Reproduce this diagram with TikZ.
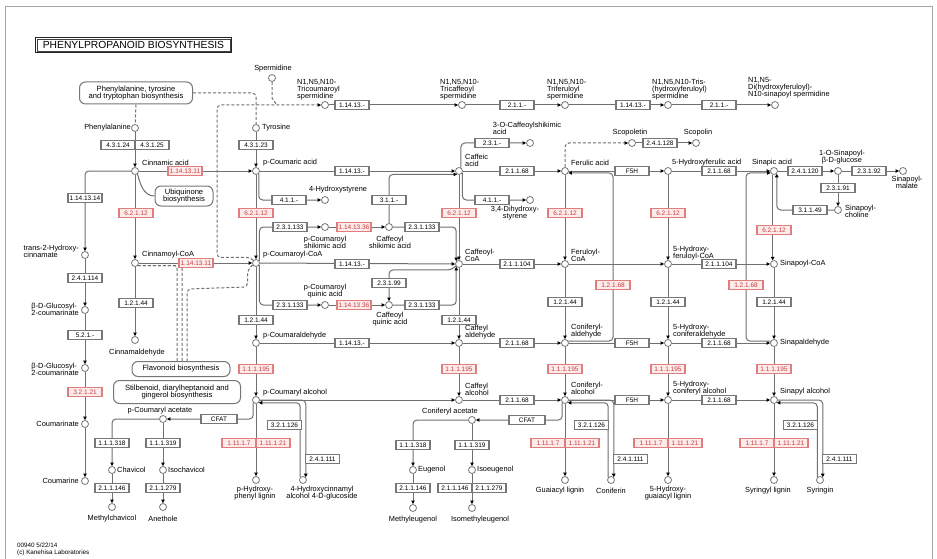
\documentclass[tikz,border=0pt]{standalone}
\usepackage{fontspec}
\setmainfont{Liberation Sans}
\usetikzlibrary{arrows.meta}
\pgfdeclarelayer{back}
\pgfdeclarelayer{bg}
\pgfsetlayers{back,bg,main}
\definecolor{lnc}{HTML}{707070}
\definecolor{boxc}{HTML}{777777}
\definecolor{redb}{HTML}{E07D7D}
\definecolor{redf}{HTML}{FDEBEB}
\definecolor{redt}{HTML}{C83C3C}
\tikzset{
  >={Triangle[length=3.5pt,width=3.4pt,color=black]},
  ec/.style={draw=boxc, line width=1.1pt, fill=white, font=\fontsize{6.5}{6.8}\selectfont, minimum width=34pt, minimum height=9.5pt, inner sep=0pt},
  ecr/.style={ec, draw=redb, fill=redf, text=redt},
  cpd/.style={circle, draw=boxc, line width=0.8pt, fill=white, minimum size=7pt, inner sep=0pt},
  lb/.style={font=\fontsize{7.4}{7}\selectfont, inner sep=0pt, align=left},
  lbc/.style={lb, align=center},
  mapbox/.style={draw=boxc, line width=1pt, rounded corners=6pt, fill=white, font=\fontsize{7.6}{7.6}\selectfont, align=center, inner sep=1pt},
  ln/.style={draw=lnc, line width=1pt},
  ar/.style={ln, ->},
  dl/.style={ln, dash pattern=on 3pt off 2pt},
}
\begin{document}
\begin{tikzpicture}[x=1pt,y=-1pt]
\useasboundingbox (0,0) rectangle (937,559);
\begin{pgfonlayer}{back}
\fill[white] (0,0) rectangle (937,559);
\draw[black!35,line width=1pt] (5,559) -- (5,7) -- (932,7) -- (932,559);
\end{pgfonlayer}

% title and maps
\node[draw=black!85, line width=1.3pt, minimum width=196pt, minimum height=15pt, inner sep=0pt, font=\fontsize{10.3}{11}\selectfont] (title) at (133.5,45) {PHENYLPROPANOID BIOSYNTHESIS};
\draw[black!75, line width=0.5pt] ([shift={(2.3,2.3)}]title.north west) rectangle ([shift={(-2.3,-2.3)}]title.south east);
\node[mapbox, minimum width=113pt, minimum height=22pt] (mphe) at (136,93) {Phenylalanine, tyrosine\\and tryptophan biosynthesis};
\node[mapbox, minimum width=58pt, minimum height=20pt] (mubq) at (184,196) {Ubiquinone\\biosynthesis};
\node[mapbox, minimum width=98pt, minimum height=15pt] (mflav) at (181,369) {Flavonoid biosynthesis};
\node[mapbox, minimum width=127pt, minimum height=23pt] (mstil) at (177,392) {Stilbenoid, diarylheptanoid and\\gingerol biosynthesis};

% ---------- compounds ----------
\node[cpd] (phe) at (135,128) {};
\node[lb, anchor=east] (lphe) at (131,128) {Phenylalanine};
\node[cpd] (cinn) at (135,171) {};
\node[lb, anchor=west] (lcinn) at (142,163) {Cinnamic acid};
\node[cpd] (t2hc) at (85,255) {};
\node[lb, anchor=east] (lt2hc) at (79,251) {trans-2-Hydroxy-\\cinnamate};
\node[cpd] (glc1) at (85,310) {};
\node[lb, anchor=east] (lglc1) at (79,309) {β-D-Glucosyl-\\2-coumarinate};
\node[cpd] (glc2) at (85,368) {};
\node[lb, anchor=east] (lglc2) at (79,369) {β-D-Glucosyl-\\2-coumarinate};
\node[cpd] (cmrt) at (85,424) {};
\node[lb, anchor=east] (lcmrt) at (79,424) {Coumarinate};
\node[cpd] (cmrn) at (85,481) {};
\node[lb, anchor=east] (lcmrn) at (79,481) {Coumarine};
\node[cpd] (cinncoa) at (135,263) {};
\node[lb, anchor=west] (lcinncoa) at (142,255) {Cinnamoyl-CoA};
\node[cpd] (cinnald) at (135,340) {};
\node[lb] (lcinnald) at (137,353) {Cinnamaldehyde};
\node[cpd] (pcac) at (163,419) {};
\node[lb] (lpcac) at (160,411) {p-Coumaryl acetate};
\node[cpd] (chav) at (112,470) {};
\node[lb, anchor=west] (lchav) at (117,470) {Chavicol};
\node[cpd] (ichav) at (163,470) {};
\node[lb, anchor=west] (lichav) at (168,470) {Isochavicol};
\node[cpd] (mchav) at (112,507) {};
\node[lb] (lmchav) at (112,519) {Methylchavicol};
\node[cpd] (anet) at (163,507) {};
\node[lb] (lanet) at (163,519) {Anethole};

\node[cpd] (tyr) at (256,128) {};
\node[lb, anchor=west] (ltyr) at (262,128) {Tyrosine};
\node[cpd] (pcoum) at (256,171) {};
\node[lb, anchor=west] (lpcoum) at (263,163) {p-Coumaric acid};
\node[cpd] (sperm) at (272,78) {};
\node[lb] (lsperm) at (273,69) {Spermidine};
\coordinate (spj) at (277,105);
\node[cpd] (tcs) at (325,105) {};
\node[lb, anchor=north west] (ltcs) at (297,79) {N1,N5,N10-\\Tricoumaroyl\\spermidine};
\node[cpd] (tcaf) at (462,105) {};
\node[lb, anchor=north west] (ltcaf) at (440,79) {N1,N5,N10-\\Tricaffeoyl\\spermidine};
\node[cpd] (tfer) at (565,105) {};
\node[lb, anchor=north west] (ltfer) at (547,79) {N1,N5,N10-\\Triferuloyl\\spermidine};
\node[cpd] (thf) at (668,105) {};
\node[lb, anchor=north west] (lthf) at (652,79) {N1,N5,N10-Tris-\\(hydroxyferuloyl)\\spermidine};
\node[cpd] (dsp) at (775,105) {};
\node[lb, anchor=north west] (ldsp) at (748,77) {N1,N5-\\Di(hydroxyferuloyl)-\\N10-sinapoyl spermidine};
\node[cpd] (hsty) at (325,200) {};
\node[lb] (lhsty) at (338,190) {4-Hydroxystyrene};
\node[cpd] (pcoa) at (256,263) {};
\node[lb, anchor=west] (lpcoa) at (263,255) {p-Coumaroyl-CoA};
\node[cpd] (pcs) at (325,227) {};
\node[lbc] (lpcs) at (325,242) {p-Coumaroyl\\shikimic acid};
\node[cpd] (cs) at (389,227) {};
\node[lbc] (lcs) at (390,242) {Caffeoyl\\shikimic acid};
\node[cpd] (pcq) at (325,305) {};
\node[lbc] (lpcq) at (325,291) {p-Coumaroyl\\quinic acid};
\node[cpd] (cq) at (389,305) {};
\node[lbc] (lcq) at (390,319) {Caffeoyl\\quinic acid};
\node[cpd] (pcald) at (256,343) {};
\node[lb, anchor=west] (lpcald) at (263,336) {p-Coumaraldehyde};
\node[cpd] (pcalc) at (256,400) {};
\node[lb, anchor=west] (lpcalc) at (263,393) {p-Coumaryl alcohol};
\node[cpd] (phl) at (256,480) {};
\node[lbc] (lphl) at (255,493) {p-Hydroxy-\\phenyl lignin};
\node[cpd] (hcag) at (303,480) {};
\node[lbc] (lhcag) at (322,493) {4-Hydroxycinnamyl\\alcohol 4-D-glucoside};

\node[cpd] (caff) at (459,171) {};
\node[lb, anchor=west] (lcaff) at (465,160) {Caffeic\\acid};
\node[cpd] (chl) at (530,143) {};
\node[lb] (lchl) at (527,128) {3-O-Caffeoylshikimic\\acid};
\node[cpd] (dhst) at (530,200) {};
\node[lbc] (ldhst) at (515,213) {3,4-Dihydroxy-\\styrene};
\node[cpd] (ccoa) at (459,264) {};
\node[lb, anchor=west] (lccoa) at (465,255) {Caffeoyl-\\CoA};
\node[cpd] (cald) at (459,343) {};
\node[lb, anchor=west] (lcald) at (465,332) {Caffeyl\\aldehyde};
\node[cpd] (calc) at (459,400) {};
\node[lb, anchor=west] (lcalc) at (465,389) {Caffeyl\\alcohol};
\node[cpd] (conac) at (472,420) {};
\node[lb] (lconac) at (450,412) {Coniferyl acetate};
\node[cpd] (eug) at (413,470) {};
\node[lb, anchor=west] (leug) at (418,470) {Eugenol};
\node[cpd] (ieug) at (472,470) {};
\node[lb, anchor=west] (lieug) at (477,470) {Isoeugenol};
\node[cpd] (meug) at (413,508) {};
\node[lb] (lmeug) at (413,520) {Methyleugenol};
\node[cpd] (imeug) at (472,508) {};
\node[lb] (limeug) at (480,520) {Isomethyleugenol};

\node[cpd] (fer) at (565,171) {};
\node[lb, anchor=west] (lfer) at (571,163) {Ferulic acid};
\node[cpd] (scop) at (632,143) {};
\node[lb] (lscop) at (630,133) {Scopoletin};
\node[cpd] (scopn) at (696,143) {};
\node[lb] (lscopn) at (698,133) {Scopolin};
\node[cpd] (hfer) at (668,171) {};
\node[lb, anchor=west] (lhfer) at (672,163) {5-Hydroxyferulic acid};
\node[cpd] (fcoa) at (565,264) {};
\node[lb, anchor=west] (lfcoa) at (571,255) {Feruloyl-\\CoA};
\node[cpd] (conald) at (565,343) {};
\node[lb, anchor=west] (lconald) at (571,331) {Coniferyl-\\aldehyde};
\node[cpd] (conalc) at (565,400) {};
\node[lb, anchor=west] (lconalc) at (571,388) {Coniferyl-\\alcohol};
\node[cpd] (gl) at (565,480) {};
\node[lb] (lgl) at (560,491) {Guaiacyl lignin};
\node[cpd] (conin) at (611,480) {};
\node[lb] (lconin) at (611,491) {Coniferin};

\node[cpd] (hfcoa) at (668,264) {};
\node[lb, anchor=west] (lhfcoa) at (673,253) {5-Hydroxy-\\feruloyl-CoA};
\node[cpd] (hcald) at (668,343) {};
\node[lb, anchor=west] (lhcald) at (673,331) {5-Hydroxy-\\coniferaldehyde};
\node[cpd] (hcalc) at (668,400) {};
\node[lb, anchor=west] (lhcalc) at (673,388) {5-Hydroxy-\\coniferyl alcohol};
\node[cpd] (hgl) at (668,480) {};
\node[lbc] (lhgl) at (668,493) {5-Hydroxy-\\guaiacyl lignin};

\node[cpd] (sin) at (774,171) {};
\node[lb] (lsin) at (772,163) {Sinapic acid};
\node[cpd] (sglc) at (838,171) {};
\node[lbc] (lsglc) at (842,157) {1-O-Sinapoyl-\\β-D-glucose};
\node[cpd] (smal) at (903,171) {};
\node[lbc, anchor=north] (lsmal) at (907,176) {Sinapoyl-\\malate};
\node[cpd] (schol) at (838,210) {};
\node[lb, anchor=west] (lschol) at (845,211) {Sinapoyl-\\choline};
\node[cpd] (scoa) at (774,264) {};
\node[lb, anchor=west] (lscoa) at (780,264) {Sinapoyl-CoA};
\node[cpd] (sald) at (774,343) {};
\node[lb, anchor=west] (lsald) at (780,343) {Sinapaldehyde};
\node[cpd] (salc) at (774,400) {};
\node[lb, anchor=west] (lsalc) at (780,392) {Sinapyl alcohol};
\node[cpd] (syl) at (774,480) {};
\node[lb] (lsyl) at (768,491) {Syringyl lignin};
\node[cpd] (syr) at (820,480) {};
\node[lb] (lsyr) at (820,491) {Syringin};

\node[lb, anchor=north west, font=\fontsize{6.3}{6.6}\selectfont] (foot) at (17,543) {00940 5/22/14\\(c) Kanehisa Laboratories};

% ---------- enzymes ----------
\node[ec] (e1) at (118,145) {4.3.1.24};
\node[ec] (e2) at (152,145) {4.3.1.25};
\node[ecr] (e3) at (185,171) {1.14.13.11};
\node[ec] (e4) at (85,198) {1.14.13.14};
\node[ec] (e5) at (85,278) {2.4.1.114};
\node[ec] (e6) at (85,335) {5.2.1.-};
\node[ecr] (e7) at (85,392) {3.2.1.21};
\node[ecr] (e8) at (136,213) {6.2.1.12};
\node[ecr] (e9) at (196,263) {1.14.13.11};
\node[ec] (e10) at (136,303) {1.2.1.44};
\node[ec] (e11) at (112,443) {1.1.1.318};
\node[ec] (e12) at (163,443) {1.1.1.319};
\node[ec] (e13) at (112,488) {2.1.1.146};
\node[ec] (e14) at (163,488) {2.1.1.279};
\node[ec, minimum width=36pt] (e15) at (219,419) {CFAT};
\node[ec] (e16) at (256,145) {4.3.1.23};
\node[ec] (e17) at (352,105) {1.14.13.-};
\node[ec] (e18) at (517,105) {2.1.1.-};
\node[ec] (e19) at (633,105) {1.14.13.-};
\node[ec] (e20) at (719,105) {2.1.1.-};
\node[ec] (e21) at (352,171) {1.14.13.-};
\node[ec] (e22) at (289,200) {4.1.1.-};
\node[ecr] (e23) at (256,213) {6.2.1.12};
\node[ec] (e24) at (290,227) {2.3.1.133};
\node[ecr] (e25) at (354,227) {1.14.13.36};
\node[ec] (e26) at (422,227) {2.3.1.133};
\node[ec] (e27) at (389,200) {3.1.1.-};
\node[ec] (e28) at (352,264) {1.14.13.-};
\node[ec] (e29) at (389,283) {2.3.1.99};
\node[ec] (e30) at (290,305) {2.3.1.133};
\node[ecr] (e31) at (354,305) {1.14.13.36};
\node[ec] (e32) at (422,305) {2.3.1.133};
\node[ec] (e33) at (256,320) {1.2.1.44};
\node[ec] (e34) at (352,343) {1.14.13.-};
\node[ecr] (e35) at (256,369) {1.1.1.195};
\node[ecr] (e36) at (239,443) {1.11.1.7};
\node[ecr] (e37) at (273,443) {1.11.1.21};
\node[ec] (e38) at (284.5,425) {3.2.1.126};
\node[ec] (e39) at (322.5,459) {2.4.1.111};
\node[ec] (e40) at (492,143) {2.3.1.-};
\node[ec] (e41) at (492,200) {4.1.1.-};
\node[ecr] (e42) at (459,213) {6.2.1.12};
\node[ec] (e43) at (517,171) {2.1.1.68};
\node[ec] (e44) at (517,264) {2.1.1.104};
\node[ec] (e45) at (459,320) {1.2.1.44};
\node[ec] (e46) at (517,343) {2.1.1.68};
\node[ecr] (e47) at (459,369) {1.1.1.195};
\node[ec] (e48) at (517,400) {2.1.1.68};
\node[ec, minimum width=36pt] (e49) at (527,420) {CFAT};
\node[ec] (e50) at (413,445) {1.1.1.318};
\node[ec] (e51) at (472,445) {1.1.1.319};
\node[ec] (e52) at (413,488) {2.1.1.146};
\node[ec] (e53) at (455,488) {2.1.1.146};
\node[ec] (e54) at (489,488) {2.1.1.279};
\node[ec] (e55) at (660,143) {2.4.1.128};
\node[ec] (e56) at (632,171) {F5H};
\node[ecr] (e57) at (565,213) {6.2.1.12};
\node[ecr] (e58) at (613,285) {1.2.1.68};
\node[ec] (e59) at (565,302) {1.2.1.44};
\node[ec] (e60) at (632,343) {F5H};
\node[ecr] (e61) at (565,369) {1.1.1.195};
\node[ec] (e62) at (632,400) {F5H};
\node[ecr] (e63) at (548,443) {1.11.1.7};
\node[ecr] (e64) at (582,443) {1.11.1.21};
\node[ec] (e65) at (591.5,425) {3.2.1.126};
\node[ec] (e66) at (630.5,459) {2.4.1.111};
\node[ec] (e67) at (719,171) {2.1.1.68};
\node[ecr] (e68) at (668,213) {6.2.1.12};
\node[ec] (e69) at (719,264) {2.1.1.104};
\node[ec] (e70) at (668,302) {1.2.1.44};
\node[ec] (e71) at (719,343) {2.1.1.68};
\node[ecr] (e72) at (668,369) {1.1.1.195};
\node[ec] (e73) at (719,400) {2.1.1.68};
\node[ecr] (e74) at (651,443) {1.11.1.7};
\node[ecr] (e75) at (685,443) {1.11.1.21};
\node[ec] (e76) at (805,171) {2.4.1.120};
\node[ec] (e77) at (869,171) {2.3.1.92};
\node[ec] (e78) at (838,188) {2.3.1.91};
\node[ec] (e79) at (810,210) {3.1.1.49};
\node[ecr] (e80) at (774,230) {6.2.1.12};
\node[ecr] (e81) at (746,285) {1.2.1.68};
\node[ec] (e82) at (774,302) {1.2.1.44};
\node[ecr] (e83) at (774,369) {1.1.1.195};
\node[ecr] (e84) at (757,443) {1.11.1.7};
\node[ecr] (e85) at (791,443) {1.11.1.21};
\node[ec] (e86) at (800.5,425) {3.2.1.126};
\node[ec] (e87) at (839.5,459) {2.4.1.111};

% ---------- connectors ----------
\begin{pgfonlayer}{bg}
\draw[dl] (mphe.south) -- (phe);
\draw[dl, rounded corners=4pt] (mphe.east) -| (tyr);
\draw[ar] (phe) -- (cinn);
\draw[ar] (tyr) -- (pcoum);
\draw[ar] (cinn) -- (pcoum);
\draw[ar, rounded corners=4pt] (cinn.west) -| (t2hc);
\draw[ar] (t2hc) -- (glc1);
\draw[ar] (glc1) -- (glc2);
\draw[ar] (glc2) -- (cmrt);
\draw[ar] (cmrt) -- (cmrn);
\draw[ln] (cinn.-50) to[out=-75, in=180] (mubq.west);
\draw[ar] (cinn) -- (cinncoa);
\draw[ar] (cinncoa) -- (cinnald);
\draw[ar] (cinncoa) -- (pcoa);
\draw[dl, rounded corners=3pt] (cinncoa.-40) -| (177,362);
\draw[dl, rounded corners=3pt] (cinncoa.-40) -| (182,362);
\draw[dl, rounded corners=4pt] (pcoa.-150) -- ++(-5,5) -- ++(0,17) -- (187,289) -- (187,362);
\draw[dl, ->, rounded corners=4pt] (pcoa.135) -- ++(-3,-3) -- (217,257.5) -- (217,105) -- (tcs);
\draw[dl] (sperm) -- ++(0,20) -- (spj);
\draw[ar] (tcs) -- (tcaf);
\draw[ar] (tcaf) -- (tfer);
\draw[ar] (tfer) -- (thf);
\draw[ar] (thf) -- (dsp);
\draw[ar] (pcoum) -- (caff);
\draw[ar, rounded corners=4pt] (pcoum.-45) |- (hsty);
\draw[ar] (pcoum) -- (pcoa);
\draw[ar, rounded corners=4pt] (pcoa.30) |- (pcs);
\draw[ar] (pcs) -- (cs);
\draw[ar, rounded corners=4pt] (cs) -| (ccoa.135);
\draw[ar, rounded corners=4pt] (cs) |- (caff.-120);
\draw[ar, rounded corners=4pt] (pcoa.-30) |- (pcq);
\draw[ar] (pcq) -- (cq);
\draw[ar, rounded corners=4pt] (cq) -| (ccoa.-135);
\draw[ar, rounded corners=4pt] (ccoa.-150) -- ++(-4,4) -| (cq);
\draw[ar] (pcoa) -- (ccoa);
\draw[ar] (pcoa) -- (pcald);
\draw[ar] (pcald) -- (pcalc);
\draw[ar] (pcalc) -- (phl);
\draw[ar] (pcald) -- (cald);
\draw[ar] (pcalc) -- (calc);
\draw[ar, rounded corners=4pt] (pcalc.-135) |- (pcac);
\draw[ar] (pcac) -- (ichav);
\draw[ar] (ichav) -- (anet);
\draw[ar, rounded corners=4pt] (pcac.west) -| (chav);
\draw[ar] (chav) -- (mchav);
\draw[ar, rounded corners=4pt] (pcalc.east) -| (hcag.45);
\draw[ar, rounded corners=4pt] (hcag.135) |- (pcalc.-45);

\draw[ar, rounded corners=4pt] (caff.60) |- (chl);
\draw[ar, rounded corners=4pt] (caff.-30) |- (dhst);
\draw[ar] (caff) -- (fer);
\draw[ar] (caff) -- (ccoa);
\draw[ar] (ccoa) -- (fcoa);
\draw[ar] (ccoa) -- (cald);
\draw[ar] (cald) -- (calc);
\draw[ar] (cald) -- (conald);
\draw[ar] (calc) -- (conalc);
\draw[ar, rounded corners=4pt] (conalc.-135) |- (conac);
\draw[ar] (conac) -- (ieug);
\draw[ar] (ieug) -- (imeug);
\draw[ar, rounded corners=4pt] (conac.west) -| (eug);
\draw[ar] (eug) -- (meug);

\draw[dl, ->, rounded corners=4pt] (fer.north) |- (scop);
\draw[ar] (scop) -- (scopn);
\draw[ar] (fer) -- (hfer);
\draw[ar] (hfer) -- (sin);
\draw[ar] (fer) -- (fcoa);
\draw[ar] (fcoa) -- (conald);
\draw[ar] (conald) -- (conalc);
\draw[ar] (conalc) -- (gl);
\draw[ar] (fcoa) -- (hfcoa);
\draw[ar] (conald) -- (hcald);
\draw[ar] (conalc) -- (hcalc);
\draw[ar, rounded corners=4pt] (conald.30) -| (613,200) |- (fer.-30);
\draw[ar, rounded corners=4pt] (conalc.east) -| (conin.45);
\draw[ar, rounded corners=4pt] (conin.135) |- (conalc.-45);

\draw[ar] (hfer) -- (hfcoa);
\draw[ar] (hfcoa) -- (hcald);
\draw[ar] (hcald) -- (hcalc);
\draw[ar] (hcalc) -- (hgl);
\draw[ar] (hfcoa) -- (scoa);
\draw[ar] (hcald) -- (sald);
\draw[ar] (hcalc) -- (salc);

\draw[ar] (sin) -- (sglc);
\draw[ar] (sglc) -- (smal);
\draw[ar] (sglc) -- (schol);
\draw[ar, rounded corners=4pt] (schol) -| (sin.-45);
\draw[ar] (sin.-110) -- (scoa.110);
\draw[ar, rounded corners=4pt] (sald.150) -| (746,200) |- (sin.-150);
\draw[ar] (scoa) -- (sald);
\draw[ar] (sald) -- (salc);
\draw[ar] (salc) -- (syl);
\draw[ar, rounded corners=4pt] (salc.east) -| (syr.45);
\draw[ar, rounded corners=4pt] (syr.135) |- (salc.-45);
\end{pgfonlayer}
\end{tikzpicture}
\end{document}
